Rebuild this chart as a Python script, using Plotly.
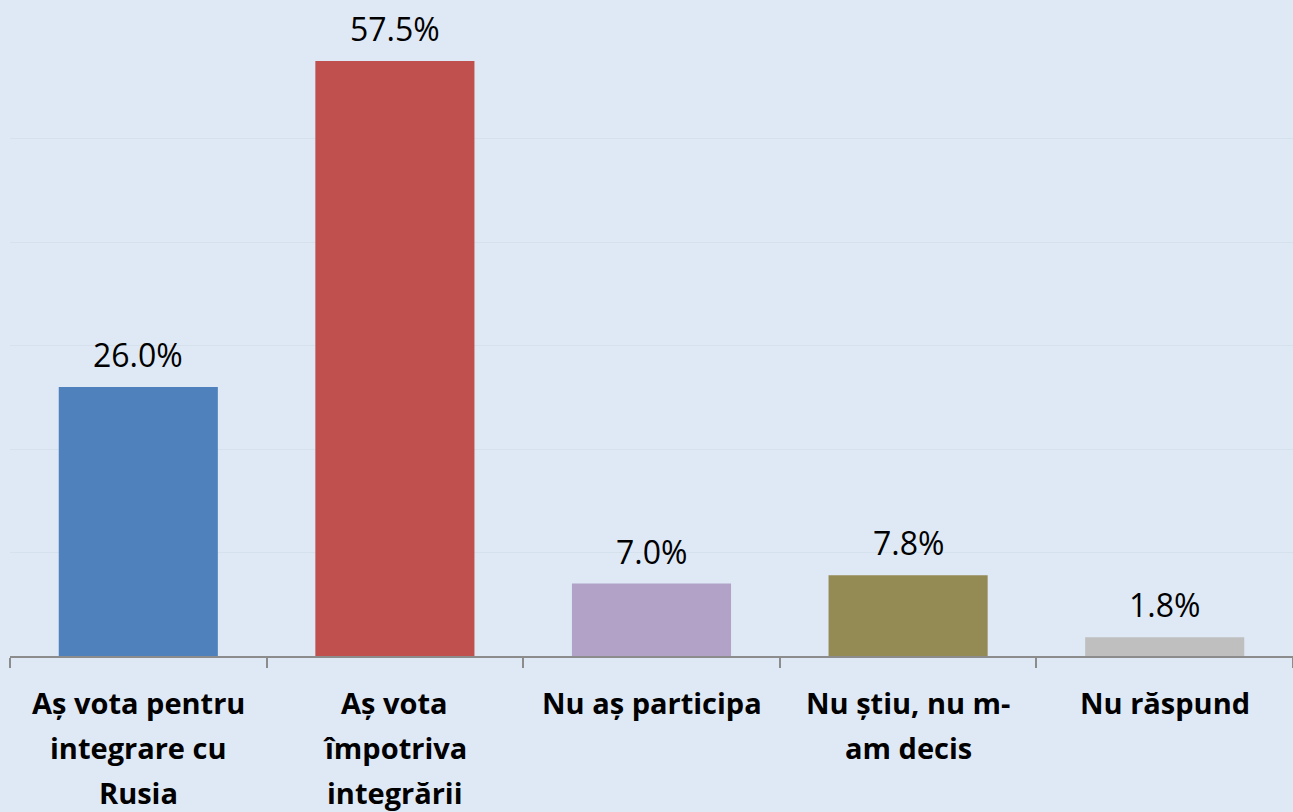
import plotly.graph_objects as go

categories = [
    "Aș vota pentru<br>integrare cu<br>Rusia",
    "Aș vota<br>împotriva<br>integrării",
    "Nu aș participa",
    "Nu știu, nu m-<br>am decis",
    "Nu răspund",
]
values = [26.0, 57.5, 7.0, 7.8, 1.8]
labels = [f"{v:.1f}%" for v in values]
colors = ["#4F81BD", "#C0504D", "#B2A2C7", "#948A54", "#BFBFBF"]

bg = "#DFE9F5"

fig = go.Figure(go.Bar(
    x=categories, y=values,
    marker=dict(color=colors, line=dict(width=0)),
    width=0.62,
    hoverinfo="x+y",
))

# value labels above the bars
for cat, v, lab in zip(categories, values, labels):
    fig.add_annotation(
        x=cat, y=v, text=lab, showarrow=False,
        yanchor="bottom", yshift=9,
        font=dict(family="Open Sans", size=32, color="#000000"),
    )

# category labels under the axis, one annotation per line (wider line spacing)
for cat in categories:
    for i, line in enumerate(cat.split("<br>")):
        fig.add_annotation(
            x=cat, y=0, text=line, showarrow=False,
            yanchor="middle", yshift=-(46 + i * 45),
            font=dict(family="Open Sans", size=29, color="#000000", weight="bold"),
        )

fig.update_layout(
    width=1293, height=812,
    paper_bgcolor=bg, plot_bgcolor=bg,
    margin=dict(l=10, r=0, t=35, b=156),
    showlegend=False,
)
fig.update_xaxes(
    showline=True, linecolor="#8C8C8C", linewidth=1.5,
    ticks="outside", tickson="boundaries", ticklen=10, tickcolor="#8C8C8C", tickwidth=1.5,
    showticklabels=False,
    showgrid=False,
)
fig.update_yaxes(
    range=[0, 60], dtick=10, showticklabels=False,
    showgrid=True, gridcolor="#D6E1EE", gridwidth=1,
    zeroline=False,
)

fig.write_html(
    "out.html",
    config={"displayModeBar": False},
    post_script="document.body.style.margin='0';document.body.style.overflow='hidden';",
)
